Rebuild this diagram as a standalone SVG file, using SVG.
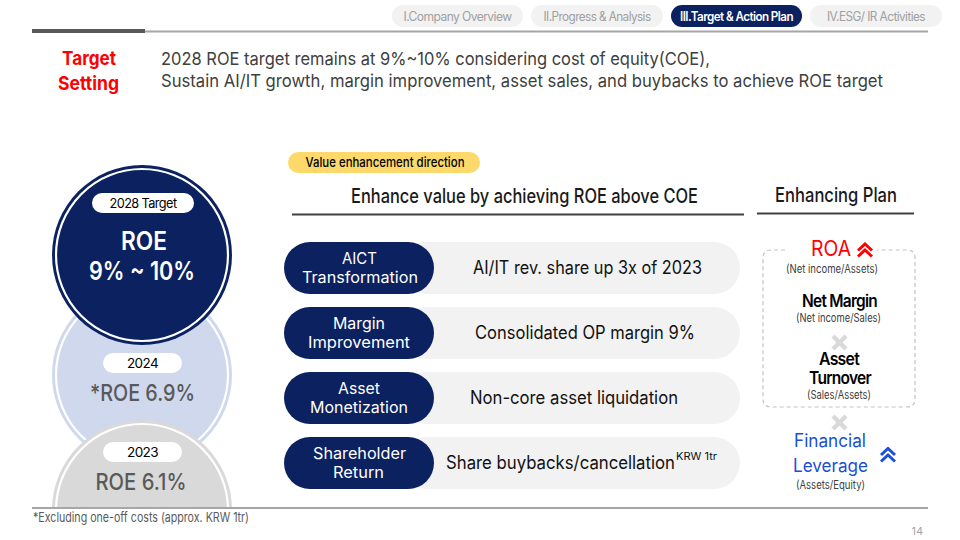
<svg xmlns="http://www.w3.org/2000/svg" width="960" height="540" viewBox="0 0 960 540">
<defs>
<style>
text{font-family:Inter,"Noto Sans","Liberation Sans",sans-serif;}
.tab{font-size:12.5px;fill:#a0a0a0;text-anchor:middle;letter-spacing:-0.6px}
.tabbg{fill:#f2f2f2}
.navy{fill:#0b2160}
.npt{font-size:16px;fill:#fff;text-anchor:middle}
.gpt{font-size:18px;fill:#111;text-anchor:middle}
.gp{fill:#f2f2f2}
.pill{fill:#fff}
.pilltxt{font-size:13px;fill:#000;text-anchor:middle;letter-spacing:-0.6px}
.small{font-size:11.5px;fill:#404040;text-anchor:middle}
.bk{font-size:17px;fill:#000;font-weight:600;text-anchor:middle;letter-spacing:-0.8px}
.blue{font-size:18px;fill:#1a4fd6;text-anchor:middle}
.cross{stroke:#d9d9d9;stroke-width:4.5;stroke-linecap:butt}
</style>
<clipPath id="clipGray"><rect x="0" y="0" width="960" height="507"/></clipPath>
</defs>
<rect width="960" height="540" fill="#fff"/>

<g id="header">
<rect class="tabbg" x="392" y="5" width="131" height="22" rx="11"/>
<text class="tab" x="457.5" y="20.5" textLength="108" lengthAdjust="spacingAndGlyphs">I.Company Overview</text>
<rect class="tabbg" x="531" y="5" width="132" height="22" rx="11"/>
<text class="tab" x="597" y="20.5" textLength="107" lengthAdjust="spacingAndGlyphs">II.Progress &amp; Analysis</text>
<rect x="671" y="5" width="131" height="22" rx="11" fill="#0b2160"/>
<text class="tab" x="736.5" y="20.5" style="fill:#fff;font-weight:600" textLength="113" lengthAdjust="spacingAndGlyphs">III.Target &amp; Action Plan</text>
<rect class="tabbg" x="810" y="5" width="132" height="22" rx="11"/>
<text class="tab" x="876" y="20.5" textLength="98" lengthAdjust="spacingAndGlyphs">IV.ESG/ IR Activities</text>
<line x1="32" y1="31.5" x2="928" y2="31.5" stroke="#a6a6a6" stroke-width="2"/>
<line x1="32" y1="31" x2="145" y2="31" stroke="#595959" stroke-width="4"/>
</g>

<g id="title">
<text x="89" y="65" font-size="19" font-weight="700" fill="#ff0000" text-anchor="middle" textLength="54" lengthAdjust="spacingAndGlyphs">Target</text>
<text x="88.5" y="90" font-size="19" font-weight="700" fill="#ff0000" text-anchor="middle" textLength="61" lengthAdjust="spacingAndGlyphs">Setting</text>
<text x="161" y="65" font-size="17.5" fill="#404040" textLength="549" lengthAdjust="spacingAndGlyphs">2028 ROE target remains at 9%~10% considering cost of equity(COE),</text>
<text x="161" y="87" font-size="17.5" fill="#404040" textLength="722" lengthAdjust="spacingAndGlyphs">Sustain AI/IT growth, margin improvement, asset sales, and buybacks to achieve ROE target</text>
</g>

<g id="circle-2024">
<circle cx="142" cy="375" r="90" fill="#cfd8ec"/>
<circle cx="142" cy="375" r="86" fill="none" stroke="#fff" stroke-width="2.2"/>
<rect class="pill" x="103" y="353" width="79" height="20" rx="10"/>
<text class="pilltxt" x="142.5" y="368" textLength="31" lengthAdjust="spacingAndGlyphs">2024</text>
<text x="142.5" y="401" font-size="23" font-weight="500" fill="#595959" text-anchor="middle" textLength="105" lengthAdjust="spacingAndGlyphs">*ROE 6.9%</text>
</g>

<g id="circle-2023" clip-path="url(#clipGray)">
<circle cx="142" cy="510" r="90" fill="#d9d9d9"/>
<circle cx="142" cy="510" r="86" fill="none" stroke="#fff" stroke-width="2.2"/>
<rect class="pill" x="103" y="442" width="79" height="20" rx="10"/>
<text class="pilltxt" x="142.5" y="457" textLength="31" lengthAdjust="spacingAndGlyphs">2023</text>
<text x="141" y="490" font-size="23" font-weight="500" fill="#595959" text-anchor="middle" textLength="91" lengthAdjust="spacingAndGlyphs">ROE 6.1%</text>
</g>

<g id="circle-2028">
<circle cx="142" cy="255" r="90" fill="#0b2160"/>
<circle cx="142" cy="255" r="86" fill="none" stroke="#fff" stroke-width="2.2"/>
<rect class="pill" x="92" y="193" width="102" height="20" rx="10"/>
<text class="pilltxt" x="143" y="208" textLength="67" lengthAdjust="spacingAndGlyphs">2028 Target</text>
<text x="144" y="250" font-size="25" font-weight="600" fill="#fff" text-anchor="middle" textLength="46" lengthAdjust="spacingAndGlyphs">ROE</text>
<text x="142" y="280" font-size="25" font-weight="600" fill="#fff" text-anchor="middle" textLength="106" lengthAdjust="spacingAndGlyphs">9% ~ 10%</text>
</g>

<g id="direction-header">
<rect x="288" y="152" width="192" height="21" rx="10.5" fill="#fcd96a"/>
<text x="385" y="166.5" font-size="13" font-weight="500" fill="#000" text-anchor="middle" textLength="159" lengthAdjust="spacingAndGlyphs">Value enhancement direction</text>
<text x="524.5" y="203" font-size="20" font-weight="500" fill="#1a1a1a" text-anchor="middle" textLength="347" lengthAdjust="spacingAndGlyphs">Enhance value by achieving ROE above COE</text>
<line x1="292" y1="214.5" x2="744" y2="214.5" stroke="#404040" stroke-width="2"/>
</g>

<g id="row-aict">
<rect class="gp" x="400" y="242" width="340" height="52" rx="26"/>
<rect class="navy" x="284" y="242" width="150" height="52" rx="26"/>
<text class="npt" x="359.5" y="264" textLength="35" lengthAdjust="spacingAndGlyphs">AICT</text>
<text class="npt" x="360" y="282.5" textLength="116" lengthAdjust="spacingAndGlyphs">Transformation</text>
<text class="gpt" x="587.5" y="274" textLength="229" lengthAdjust="spacingAndGlyphs">AI/IT rev. share up 3x of 2023</text>
</g>

<g id="row-margin">
<rect class="gp" x="400" y="307" width="340" height="52" rx="26"/>
<rect class="navy" x="284" y="307" width="150" height="52" rx="26"/>
<text class="npt" x="359" y="329" textLength="52" lengthAdjust="spacingAndGlyphs">Margin</text>
<text class="npt" x="359" y="347.5" textLength="102" lengthAdjust="spacingAndGlyphs">Improvement</text>
<text class="gpt" x="585" y="339" textLength="220" lengthAdjust="spacingAndGlyphs">Consolidated OP margin 9%</text>
</g>

<g id="row-asset">
<rect class="gp" x="400" y="372" width="340" height="52" rx="26"/>
<rect class="navy" x="284" y="372" width="150" height="52" rx="26"/>
<text class="npt" x="359" y="394" textLength="42" lengthAdjust="spacingAndGlyphs">Asset</text>
<text class="npt" x="359" y="412.5" textLength="98" lengthAdjust="spacingAndGlyphs">Monetization</text>
<text class="gpt" x="574" y="404" textLength="208" lengthAdjust="spacingAndGlyphs">Non-core asset liquidation</text>
</g>

<g id="row-shareholder">
<rect class="gp" x="400" y="437" width="340" height="52" rx="26"/>
<rect class="navy" x="284" y="437" width="150" height="52" rx="26"/>
<text class="npt" x="359.5" y="459" textLength="93" lengthAdjust="spacingAndGlyphs">Shareholder</text>
<text class="npt" x="358.5" y="477.5" textLength="51" lengthAdjust="spacingAndGlyphs">Return</text>
<text class="gpt" x="446" y="469" style="text-anchor:start" textLength="229" lengthAdjust="spacingAndGlyphs">Share buybacks/cancellation</text>
<text x="676" y="460" font-size="10.5" fill="#111" textLength="41" lengthAdjust="spacingAndGlyphs">KRW 1tr</text>
</g>

<g id="enhancing-plan">
<text x="836" y="202" font-size="20" font-weight="500" fill="#1a1a1a" text-anchor="middle" textLength="122" lengthAdjust="spacingAndGlyphs">Enhancing Plan</text>
<line x1="757" y1="213.5" x2="914" y2="213.5" stroke="#404040" stroke-width="2"/>
</g>

<g id="roa-box">
<path d="M785,250 H771 Q763,250 763,258 V399 Q763,407 771,407 H907 Q915,407 915,399 V258 Q915,250 907,250 H877" fill="none" stroke="#c4c4c4" stroke-width="1.2" stroke-dasharray="4 3"/>
<text x="831" y="256" font-size="21" fill="#ff0000" text-anchor="middle" textLength="40" lengthAdjust="spacingAndGlyphs">ROA</text>
<polyline points="858,250.5 865,244 872,250.5" fill="none" stroke="#ff0000" stroke-width="3"/>
<polyline points="858,256.5 865,250 872,256.5" fill="none" stroke="#ff0000" stroke-width="3"/>
<text class="small" x="832" y="272.5" textLength="92" lengthAdjust="spacingAndGlyphs">(Net income/Assets)</text>
<text class="bk" x="839.5" y="307" textLength="75" lengthAdjust="spacingAndGlyphs">Net Margin</text>
<text class="small" x="838.5" y="321.5" textLength="85" lengthAdjust="spacingAndGlyphs">(Net income/Sales)</text>
<line class="cross" x1="833" y1="336" x2="846" y2="349"/>
<line class="cross" x1="846" y1="336" x2="833" y2="349"/>
<text class="bk" x="839" y="365" textLength="40" lengthAdjust="spacingAndGlyphs">Asset</text>
<text class="bk" x="840" y="384" textLength="62" lengthAdjust="spacingAndGlyphs">Turnover</text>
<text class="small" x="839" y="398.5" textLength="64" lengthAdjust="spacingAndGlyphs">(Sales/Assets)</text>
</g>

<g id="leverage">
<line class="cross" x1="833" y1="416" x2="846" y2="429"/>
<line class="cross" x1="846" y1="416" x2="833" y2="429"/>
<text class="blue" x="830" y="447" textLength="72" lengthAdjust="spacingAndGlyphs">Financial</text>
<text class="blue" x="830.5" y="472" textLength="75" lengthAdjust="spacingAndGlyphs">Leverage</text>
<polyline points="881,455 888,448.5 895,455" fill="none" stroke="#1a4fd6" stroke-width="3"/>
<polyline points="881,461.5 888,455 895,461.5" fill="none" stroke="#1a4fd6" stroke-width="3"/>
<text class="small" x="830.5" y="488.5" textLength="69" lengthAdjust="spacingAndGlyphs">(Assets/Equity)</text>
</g>

<g id="footer">
<line x1="32" y1="508" x2="928" y2="508" stroke="#a6a6a6" stroke-width="2"/>
<text x="33" y="522" font-size="13" fill="#595959" textLength="216" lengthAdjust="spacingAndGlyphs">*Excluding one-off costs (approx. KRW 1tr)</text>
<text x="923" y="535" font-size="11" fill="#a6a6a6" text-anchor="end">14</text>
</g>
</svg>
